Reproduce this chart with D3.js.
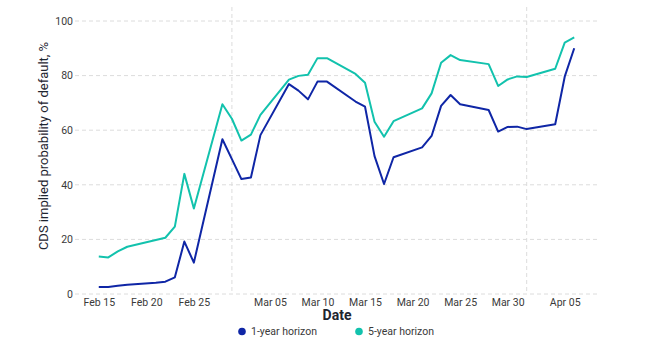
<!DOCTYPE html>
<html>
<head>
<meta charset="utf-8">
<script src="https://cdn.jsdelivr.net/npm/d3@7"></script>
<style>
  html, body { margin: 0; padding: 0; background: #fff; }
  svg { display: block; font-family: Roboto, "Noto Sans", sans-serif; }
</style>
</head>
<body>
<svg id="chart" width="651" height="343"></svg>
<script>
// ---- data ----
const dates = [
  "2022-02-15","2022-02-16","2022-02-17","2022-02-18",
  "2022-02-21","2022-02-22","2022-02-23","2022-02-24","2022-02-25",
  "2022-02-28","2022-03-01","2022-03-02","2022-03-03","2022-03-04",
  "2022-03-07","2022-03-08","2022-03-09","2022-03-10","2022-03-11",
  "2022-03-14","2022-03-15","2022-03-16","2022-03-17","2022-03-18",
  "2022-03-21","2022-03-22","2022-03-23","2022-03-24","2022-03-25",
  "2022-03-28","2022-03-29","2022-03-30","2022-03-31","2022-04-01",
  "2022-04-04","2022-04-05","2022-04-06"
];
const oneYear = [
  2.6, 2.6, 3.0, 3.4,
  4.1, 4.5, 6.1, 19.2, 11.5,
  56.7, 49.4, 42.1, 42.7, 58.2,
  76.9, 74.5, 71.3, 77.8, 77.8,
  70.5, 68.6, 50.5, 40.3, 50.1,
  53.7, 57.9, 68.9, 72.9, 69.5,
  67.4, 59.5, 61.2, 61.3, 60.4,
  62.2, 79.6, 90.0
];
const fiveYear = [
  13.7, 13.4, 15.6, 17.3,
  19.8, 20.6, 24.7, 44.0, 31.3,
  69.5, 64.2, 56.2, 58.4, 65.6,
  78.5, 79.9, 80.3, 86.4, 86.4,
  80.6, 77.4, 63.1, 57.6, 63.3,
  68.0, 73.5, 84.7, 87.5, 85.7,
  84.2, 76.2, 78.6, 79.7, 79.5,
  82.5, 92.1, 94.0
];
const xTickDates = ["2022-02-15","2022-02-20","2022-02-25","2022-03-05","2022-03-10",
                    "2022-03-15","2022-03-20","2022-03-25","2022-03-30","2022-04-05"];
const xTickLabels = ["Feb 15","Feb 20","Feb 25","Mar 05","Mar 10",
                     "Mar 15","Mar 20","Mar 25","Mar 30","Apr 05"];
const monthLines = ["2022-03-01","2022-04-01"];
const yTicks = [0, 20, 40, 60, 80, 100];
const seriesNames = ["1-year horizon", "5-year horizon"];
const seriesColors = ["#0f26a6", "#12c2ad"];

// ---- chart ----
const parse = d3.utcParse("%Y-%m-%d");
const svg = d3.select("#chart");

const x = d3.scaleUtc()
  .domain([new Date(Date.UTC(2022,1,12,12)), new Date(Date.UTC(2022,3,8,12))])
  .range([75, 598]);
const y = d3.scaleLinear().domain([0, 100]).range([294, 21]);

// horizontal grid
svg.append("g").selectAll("line").data(yTicks).join("line")
  .attr("x1", 75).attr("x2", 598)
  .attr("y1", d => y(d)).attr("y2", d => y(d))
  .attr("stroke", "#dcdcdc").attr("stroke-width", 1)
  .attr("stroke-dasharray", "4,3");

// month vertical grid
svg.append("g").selectAll("line").data(monthLines.map(parse)).join("line")
  .attr("x1", d => x(d)).attr("x2", d => x(d))
  .attr("y1", 7).attr("y2", 294)
  .attr("stroke", "#dcdcdc").attr("stroke-width", 1)
  .attr("stroke-dasharray", "4,3");

// y axis labels
const yAxis = d3.axisLeft(y).tickValues(yTicks).tickSize(0).tickPadding(0);
const gy = svg.append("g").attr("transform", "translate(73,0)").call(yAxis);
gy.select(".domain").remove();
gy.selectAll("text").attr("font-size", "10.5px").attr("fill", "#3a3a3a")
  .attr("font-family", "Roboto, sans-serif");

// x axis labels
const xAxis = d3.axisBottom(x).tickValues(xTickDates.map(parse))
  .tickFormat((d, i) => xTickLabels[i]).tickSize(0).tickPadding(0);
const gx = svg.append("g").attr("transform", "translate(0,299)").call(xAxis);
gx.select(".domain").remove();
gx.selectAll("text").attr("font-size", "10.5px").attr("fill", "#3a3a3a")
  .attr("font-family", "Roboto, sans-serif");

// lines
const line = d3.line().x(d => x(d[0])).y(d => y(d[1]));
[oneYear, fiveYear].forEach((vals, i) => {
  svg.append("path")
    .datum(dates.map((d, j) => [parse(d), vals[j]]))
    .attr("fill", "none")
    .attr("stroke", seriesColors[i])
    .attr("stroke-width", 2)
    .attr("stroke-linejoin", "round")
    .attr("d", line);
});

// axis titles
svg.append("text")
  .attr("transform", "translate(48,146) rotate(-90)")
  .attr("text-anchor", "middle")
  .attr("font-size", "13px").attr("fill", "#1e2530")
  .text("CDS implied probability of default, %");

svg.append("text")
  .attr("x", 337).attr("y", 320)
  .attr("text-anchor", "middle")
  .attr("font-size", "14px").attr("font-weight", "bold").attr("fill", "#1e2530")
  .text("Date");

// legend
const legendX = [242, 359];
seriesNames.forEach((name, i) => {
  const g = svg.append("g").attr("transform", `translate(${legendX[i]},331.5)`);
  g.append("circle").attr("r", 3.8).attr("fill", seriesColors[i]);
  g.append("text").attr("x", 9).attr("y", 3.8)
    .attr("font-size", "10.5px").attr("fill", "#3a3a3a")
    .text(name);
});
</script>
</body>
</html>
